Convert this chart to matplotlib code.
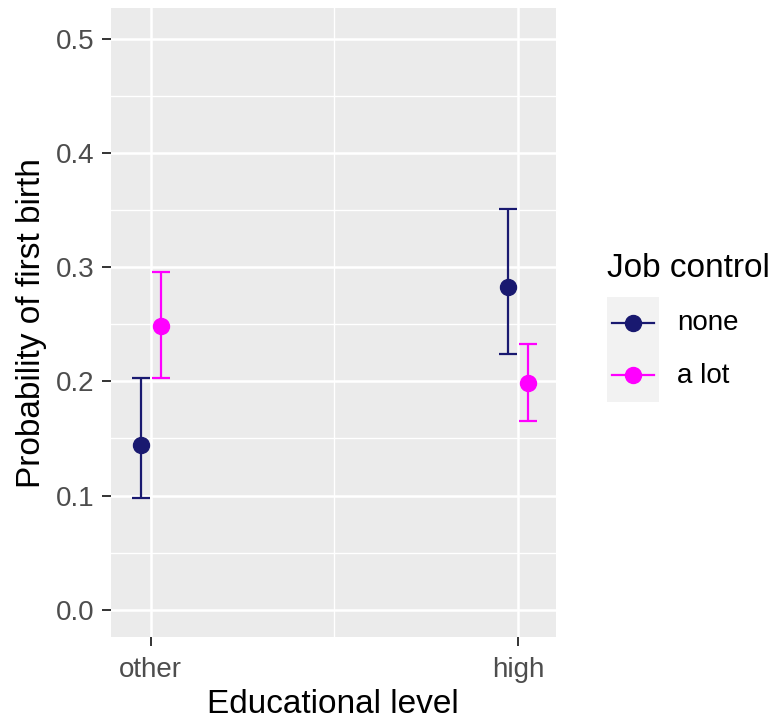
import numpy as np
import matplotlib
matplotlib.use("Agg")
import matplotlib.pyplot as plt
from matplotlib.ticker import MultipleLocator, FixedLocator

plt.rcParams['font.family'] = ['Liberation Sans', 'DejaVu Sans']

# data
edu_levels = ["other", "high"]
groups = ["none", "a lot"]
colors = ["#191970", "#FF00FF"]
prob = {"none": [0.144, 0.283], "a lot": [0.249, 0.199]}
lower = {"none": [0.098, 0.224], "a lot": [0.203, 0.165]}
upper = {"none": [0.203, 0.351], "a lot": [0.296, 0.233]}
dodge = [-0.027, 0.027]

fig = plt.figure(figsize=(7.74, 7.21), dpi=100)
ax = fig.add_axes([0.143, 0.1165, 0.5753, 0.872])
ax.set_facecolor("#EBEBEB")

x = np.arange(1, len(edu_levels) + 1)
for g, col, d in zip(groups, colors, dodge):
    y = np.array(prob[g])
    err = [y - np.array(lower[g]), np.array(upper[g]) - y]
    ax.errorbar(x + d, y, yerr=err, fmt="o", color=col, ms=11.5,
                elinewidth=1.6, capsize=6.5, capthick=1.6, zorder=3)

ax.set_xlim(0.891, 2.1026)
ax.set_ylim(-0.024, 0.527)
ax.set_xticks(x)
ax.set_xticklabels(edu_levels)
ax.xaxis.set_minor_locator(FixedLocator([1.5]))
ax.yaxis.set_major_locator(MultipleLocator(0.1))
ax.yaxis.set_minor_locator(MultipleLocator(0.05))
ax.yaxis.set_major_formatter(matplotlib.ticker.FormatStrFormatter("%.1f"))

ax.grid(which="major", color="white", lw=1.8)
ax.grid(which="minor", color="white", lw=1.0)
ax.set_axisbelow(True)
for s in ax.spines.values():
    s.set_visible(False)
ax.tick_params(which="major", length=6.5, width=1.4, color="#333333",
               labelsize=20, labelcolor="#4D4D4D")
ax.tick_params(axis="x", pad=8)
ax.tick_params(axis="y", pad=5.5)
ax.tick_params(which="minor", length=0)

ax.set_xlabel("Educational level", fontsize=24, labelpad=4)
ax.set_ylabel("Probability of first birth", fontsize=24, labelpad=6)

# legend drawn by hand to get the grey key background
fig.text(607 / 774, 1 - 268 / 721, "Job control", fontsize=24,
         va="center", ha="left")
lax = fig.add_axes([606.7 / 774, 1 - 401.7 / 721, 52.3 / 774, 105 / 721])
lax.set_facecolor("#F2F2F2")
lax.set_xlim(0, 1)
lax.set_ylim(0, 2)
for i, (g, col) in enumerate(zip(groups, colors)):
    yk = 1.5 - i
    lax.plot([0.1, 0.9], [yk, yk], color=col, lw=1.6)
    lax.plot([0.5], [yk], "o", color=col, ms=11.5)
    fig.text(677 / 774, 1 - (323 + 53.3 * i) / 721, g, fontsize=20,
             va="center", ha="left")
lax.set_xticks([])
lax.set_yticks([])
for s in lax.spines.values():
    s.set_visible(False)

fig.savefig("out.png", dpi=100)
